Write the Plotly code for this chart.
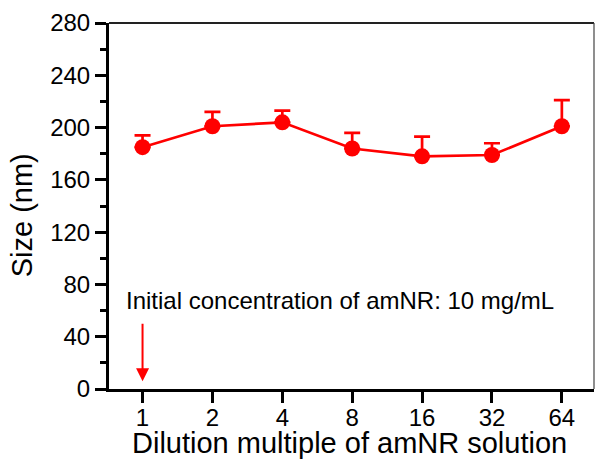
import plotly.graph_objects as go

categories = ["1", "2", "4", "8", "16", "32", "64"]
sizes = [185, 201, 204, 184, 178, 179, 201]
err_upper = [9, 11, 9, 12, 15, 9, 20]
y_ticks = [0, 40, 80, 120, 160, 200, 240, 280]

x_idx = list(range(len(categories)))
red = "#FF0000"
font = "Liberation Sans, Arial, sans-serif"

fig = go.Figure()
fig.add_trace(go.Scatter(
    x=x_idx, y=sizes, mode="lines+markers",
    line=dict(color=red, width=2.7),
    marker=dict(color=red, size=16),
    error_y=dict(type="data", symmetric=False, array=err_upper,
                 arrayminus=[0] * len(sizes), color=red, thickness=2.7, width=8),
    showlegend=False,
))

fig.add_annotation(x=-0.27, y=68, xref="x", yref="y", text="Initial concentration of amNR: 10 mg/mL",
                   showarrow=False, xanchor="left", yanchor="middle",
                   font=dict(family=font, size=24, color="black"))
fig.add_annotation(x=0, y=6, ax=0, ay=51, xref="x", yref="y", axref="x", ayref="y",
                   text="", showarrow=True, arrowhead=2, arrowsize=1.3, arrowwidth=2,
                   arrowcolor=red)

# axis titles
fig.add_annotation(x=0.495, y=-0.148, xref="paper", yref="paper",
                   text="Dilution multiple of amNR solution", showarrow=False,
                   xanchor="center", yanchor="middle", font=dict(family=font, size=29, color="black"))
fig.add_annotation(x=-0.179, y=0.475, xref="paper", yref="paper",
                   text="Size (nm)", showarrow=False, textangle=-90,
                   xanchor="center", yanchor="middle", font=dict(family=font, size=29, color="black"))

# thin top and right frame
fig.add_shape(type="line", xref="paper", yref="paper", x0=0, x1=1, y0=1, y1=1,
              line=dict(color="#222222", width=2))
fig.add_shape(type="line", xref="paper", yref="paper", x0=1, x1=1, y0=0, y1=1,
              line=dict(color="#444444", width=1.2))

fig.update_layout(
    width=597, height=459,
    margin=dict(l=109, r=3, t=23, b=70),
    plot_bgcolor="white", paper_bgcolor="white",
    font=dict(family=font, color="black"),
    xaxis=dict(
        range=[-0.48, 6.46], tickmode="array", tickvals=x_idx, ticktext=categories,
        showgrid=False, zeroline=False, showline=True, linecolor="black", linewidth=3,
        ticks="outside", ticklen=11, tickwidth=3, tickcolor="black",
        tickfont=dict(size=24, family=font), ticklabelstandoff=-6,
    ),
    yaxis=dict(
        range=[0, 280], tickmode="array", tickvals=y_ticks,
        showgrid=False, zeroline=False, showline=True, linecolor="black", linewidth=3,
        ticks="outside", ticklen=11, tickwidth=3, tickcolor="black",
        tickfont=dict(size=24, family=font),
        minor=dict(dtick=20, ticks="outside", ticklen=6, tickwidth=3, tickcolor="black", showgrid=False),
    ),
)

fig.write_html("out.html", config={"displayModeBar": False},
               post_script="document.body.style.margin='0';document.body.style.overflow='hidden';")
